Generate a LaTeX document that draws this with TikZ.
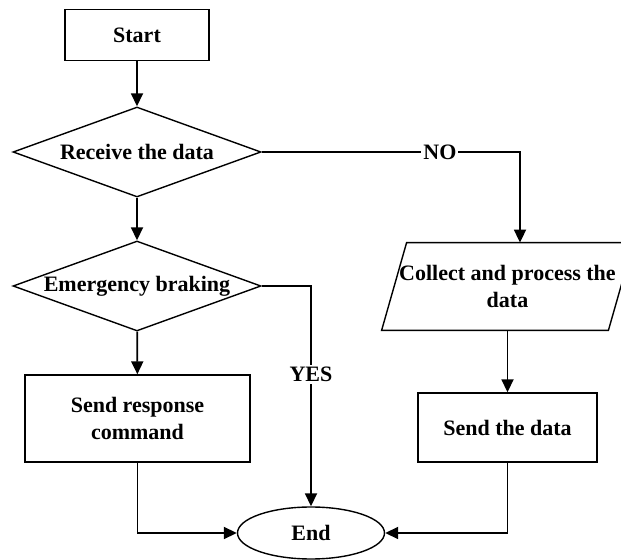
\documentclass[tikz,border=0pt]{standalone}
\usepackage{fontspec}
\setmainfont{Liberation Serif}
\usetikzlibrary{arrows.meta,shapes.geometric}

\begin{document}
\begin{tikzpicture}[x=0.5pt, y=-0.5pt,
    font=\fontsize{11}{13.5}\selectfont\bfseries,
    box/.style={draw, line width=0.7pt, rectangle, inner sep=0pt, align=center},
    decision/.style={draw, line width=0.7pt, diamond, aspect=2.7, inner sep=0pt,
      minimum width=124pt, minimum height=45pt},
    io/.style={rectangle, inner sep=0pt, minimum width=113pt, minimum height=43.5pt,
      align=center},
    terminal/.style={draw, line width=0.7pt, ellipse, inner sep=0pt,
      minimum width=73.5pt, minimum height=26pt},
    arr/.style={line width=0.9pt, -{Triangle[length=6.5pt,width=6pt]}},
    lbl/.style={fill=white, inner sep=1pt}]
  % page frame
  \clip (0,0) rectangle (621,560);

  % left column
  \node[box, minimum width=72pt, minimum height=25.5pt] (start) at (137,35) {Start};
  \node[decision] (recv) at (137,152) {Receive the data};
  \node[decision] (brake) at (137,286) {Emergency braking};
  \node[box, minimum width=112.5pt, minimum height=43.5pt] (resp) at (137.5,418.5)
    {Send response\\command};

  % right column
  \node[io] (collect) at (507.5,286.5) {Collect and process the\\data};
  \draw[line width=0.7pt] ([xshift=6.25pt]collect.north west)
    -- ([xshift=6.25pt]collect.north east)
    -- ([xshift=-6.25pt]collect.south east)
    -- ([xshift=-6.25pt]collect.south west) -- cycle;
  \node[box, minimum width=89.5pt, minimum height=34.5pt] (send) at (507.5,427.5)
    {Send the data};

  % end
  \node[terminal] (end) at (311,533) {End};

  % connectors
  \coordinate (nocorner) at (520,152);
  \draw[arr] (start) -- (recv);
  \draw[arr] (recv) -- (brake);
  \draw[arr] (recv.east) -- node[lbl, pos=0.69] {NO} (nocorner) -- (collect.north -| nocorner);
  \draw[arr] (brake) -- (resp);
  \draw[arr] (brake.east) -| node[lbl, pos=0.7] {YES} (end.north);
  \draw[arr] (collect.south) -- (send.north);
  \draw[arr] (resp.south) |- (end.west);
  \draw[arr] (send.south) |- (end.east);
\end{tikzpicture}
\end{document}
